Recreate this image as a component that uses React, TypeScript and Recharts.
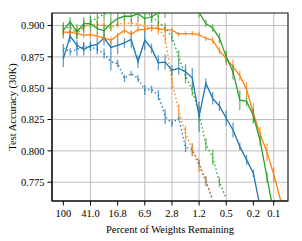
import React from 'react';
import { LineChart, Line, XAxis, YAxis, CartesianGrid, ErrorBar, ReferenceArea } from 'recharts';

const iterations = Array.from({ length: 33 }, (_, i) => i);

const xTicks = [0, 4, 8, 12, 16, 20, 24, 28, 31];
const xTickLabels = ['100', '41.0', '16.8', '6.9', '2.8', '1.2', '0.5', '0.2', '0.1'];
const yTicks = [0.775, 0.8, 0.825, 0.85, 0.875, 0.9];

const blueSolid = [0.8737, 0.8915, 0.8843, 0.8809, 0.8838, 0.8849, 0.8902, 0.8825, 0.8841, 0.8862, 0.8889, 0.8711, 0.8883, 0.8817, 0.8703, 0.8708, 0.8644, 0.8658, 0.8631, 0.8583, 0.8273, 0.8538, 0.8419, 0.8358, 0.826, 0.8167, 0.8034, 0.7928, 0.7822, 0.755];
const blueSolidErr = [0.007, 0.005, 0.004, 0.005, 0.004, 0.005, 0.006, 0.005, 0.007, 0.004, 0.007, 0.005, 0.008, 0.004, 0.006, 0.006, 0.004, 0.005, 0.006, 0.008, 0.012, 0.004, 0.005, 0.004, 0.006, 0.006, 0.003, 0.004, 0.003];

const blueDashed = [0.8822, 0.879, 0.8809, 0.883, 0.883, 0.8809, 0.8777, 0.8711, 0.8697, 0.8578, 0.8618, 0.8578, 0.8485, 0.849, 0.8445, 0.8273, 0.822, 0.826, 0.803, 0.801, 0.79, 0.776, 0.76, 0.745];
const blueDashedErr = [0.003, 0.003, 0.005, 0.004, 0.003, 0.004, 0.004, 0.007, 0.003, 0.003, 0.002, 0.003, 0.004, 0.003, 0.004, 0.006, 0.003, 0.002, 0.004, 0.005, 0.003, 0.004];

const orangeSolid = [0.8947, 0.8947, 0.8936, 0.8923, 0.8928, 0.8915, 0.8902, 0.8883, 0.8923, 0.8963, 0.8928, 0.8968, 0.8968, 0.8981, 0.8976, 0.8968, 0.8963, 0.8931, 0.8936, 0.8936, 0.8928, 0.8897, 0.8883, 0.88, 0.8737, 0.867, 0.86, 0.849, 0.83, 0.813, 0.799, 0.781, 0.761];
const orangeSolidErr = [0.002, 0.002, 0.003, 0.002, 0.003, 0.002, 0.003, 0.003, 0.002, 0.003, 0.003, 0.002, 0.002, 0.002, 0.003, 0.002, 0.002, 0.002, 0.002, 0.002, 0.002, 0.002, 0.003, 0.003, 0.005, 0.006, 0.004, 0.006, 0.008, 0.006, 0.007, 0.006];

const orangeDashed = [0.895, 0.894, 0.896, 0.899, 0.901, 0.901, 0.9, 0.898, 0.901, 0.902, 0.902, 0.901, 0.899, 0.898, 0.898, 0.89, 0.856, 0.832, 0.814, 0.801, 0.788, 0.776, 0.762];
const orangeDashedErr = [0.003, 0.003, 0.003, 0.004, 0.003, 0.003, 0.004, 0.003, 0.003, 0.003, 0.003, 0.003, 0.004, 0.003, 0.005, 0.004, 0.007, 0.005, 0.006, 0.004, 0.005, 0.003];

const greenSolid = [0.8963, 0.9029, 0.895, 0.9016, 0.9016, 0.8976, 0.8958, 0.9016, 0.9056, 0.9074, 0.9074, 0.9095, 0.9056, 0.907, 0.91, 0.911, 0.914, 0.916, 0.915, 0.914, 0.9105, 0.9016, 0.898, 0.89, 0.875, 0.863, 0.8405, 0.8395, 0.828, 0.808, 0.779, 0.75];
const greenSolidErr = [0.0066, 0.004, 0.006, 0.005, 0.006, 0.005, 0.006, 0.005, 0.006, 0.004, 0.005, 0.006, 0.004, 0.005, 0.004, 0.005, 0.004, 0.005, 0.004, 0.004, 0.004, 0.003, 0.003, 0.004, 0.005, 0.006, 0.008, 0.004, 0.006, 0.004, 0.004];

const greenDashed = [0.897, 0.899, 0.893, 0.899, 0.903, 0.906, 0.909, 0.911, 0.913, 0.914, 0.915, 0.915, 0.913, 0.907, 0.903, 0.898, 0.891, 0.875, 0.86, 0.848, 0.83, 0.805, 0.795, 0.775, 0.762];
const greenDashedErr = [0.004, 0.005, 0.004, 0.005, 0.004, 0.004, 0.005, 0.004, 0.004, 0.004, 0.004, 0.004, 0.004, 0.004, 0.005, 0.004, 0.004, 0.005, 0.006, 0.004, 0.006, 0.005, 0.006, 0.004];

const BLUE = '#1f77b4';
const ORANGE = '#ff7f0e';
const GREEN = '#2ca02c';

const data = iterations.map((i) => ({
  it: i,
  blueSolid: blueSolid[i] ?? null,
  blueSolidErr: blueSolidErr[i],
  blueDashed: blueDashed[i] ?? null,
  blueDashedErr: blueDashedErr[i],
  orangeSolid: orangeSolid[i] ?? null,
  orangeSolidErr: orangeSolidErr[i],
  orangeDashed: orangeDashed[i] ?? null,
  orangeDashedErr: orangeDashedErr[i],
  greenSolid: greenSolid[i] ?? null,
  greenSolidErr: greenSolidErr[i],
  greenDashed: greenDashed[i] ?? null,
  greenDashedErr: greenDashedErr[i],
}));

const X_DOMAIN: [number, number] = [-1.67, 33.1];
const Y_DOMAIN: [number, number] = [0.76, 0.91];
const FONT = '"Liberation Serif", "DejaVu Serif", serif';
const FS = 10.5;

const series = [
  { key: 'blueDashed', color: BLUE, dashed: true },
  { key: 'orangeDashed', color: ORANGE, dashed: true },
  { key: 'greenDashed', color: GREEN, dashed: true },
  { key: 'blueSolid', color: BLUE, dashed: false },
  { key: 'orangeSolid', color: ORANGE, dashed: false },
  { key: 'greenSolid', color: GREEN, dashed: false },
];

export default function App() {
  return (
    <div style={{ position: 'absolute', left: 0, top: 0, width: 302, height: 241, background: '#fff' }}>
      <LineChart width={302} height={241} data={data} margin={{ top: 13, right: 14, left: 0, bottom: 0 }}>
        <CartesianGrid stroke="#bdbdbd" strokeWidth={1} />
        <XAxis
          dataKey="it"
          type="number"
          domain={X_DOMAIN}
          ticks={xTicks}
          tickFormatter={(v: number) => xTickLabels[xTicks.indexOf(v)] ?? ''}
          allowDataOverflow
          height={40}
          tickSize={4.5}
          tickMargin={4}
          axisLine={{ stroke: '#000' }}
          tickLine={{ stroke: '#000' }}
          tick={{ fill: '#000', fontSize: FS, fontFamily: FONT }}
          label={{ value: 'Percent of Weights Remaining', position: 'insideBottom', offset: 8, fill: '#000', fontSize: FS, fontFamily: FONT }}
        />
        <YAxis
          type="number"
          domain={Y_DOMAIN}
          ticks={yTicks}
          tickFormatter={(v: number) => v.toFixed(3)}
          allowDataOverflow
          width={52}
          tickSize={4.5}
          tickMargin={3}
          axisLine={{ stroke: '#000' }}
          tickLine={{ stroke: '#000' }}
          tick={{ fill: '#000', fontSize: FS, fontFamily: FONT }}
          label={{ value: 'Test Accuracy (30K)', angle: -90, position: 'insideLeft', offset: 12, fill: '#000', fontSize: FS, fontFamily: FONT, style: { textAnchor: 'middle' } }}
        />
        {series.map((s) => (
          <Line
            key={s.key}
            dataKey={s.key}
            stroke={s.color}
            strokeWidth={1.3}
            strokeDasharray={s.dashed ? '1.5 2.5' : undefined}
            dot={false}
            activeDot={false}
            isAnimationActive={false}
            connectNulls={false}
          >
            <ErrorBar dataKey={`${s.key}Err`} direction="y" width={0} stroke={s.color} strokeWidth={1.3} strokeOpacity={0.7} />
          </Line>
        ))}
        <ReferenceArea x1={X_DOMAIN[0]} x2={X_DOMAIN[1]} y1={Y_DOMAIN[0]} y2={Y_DOMAIN[1]} fill="none" stroke="#333" strokeWidth={1.2} />
      </LineChart>
      <div style={{ position: 'absolute', left: 0, top: 0, width: 302, height: 12.4, background: '#fff' }} />
    </div>
  );
}
